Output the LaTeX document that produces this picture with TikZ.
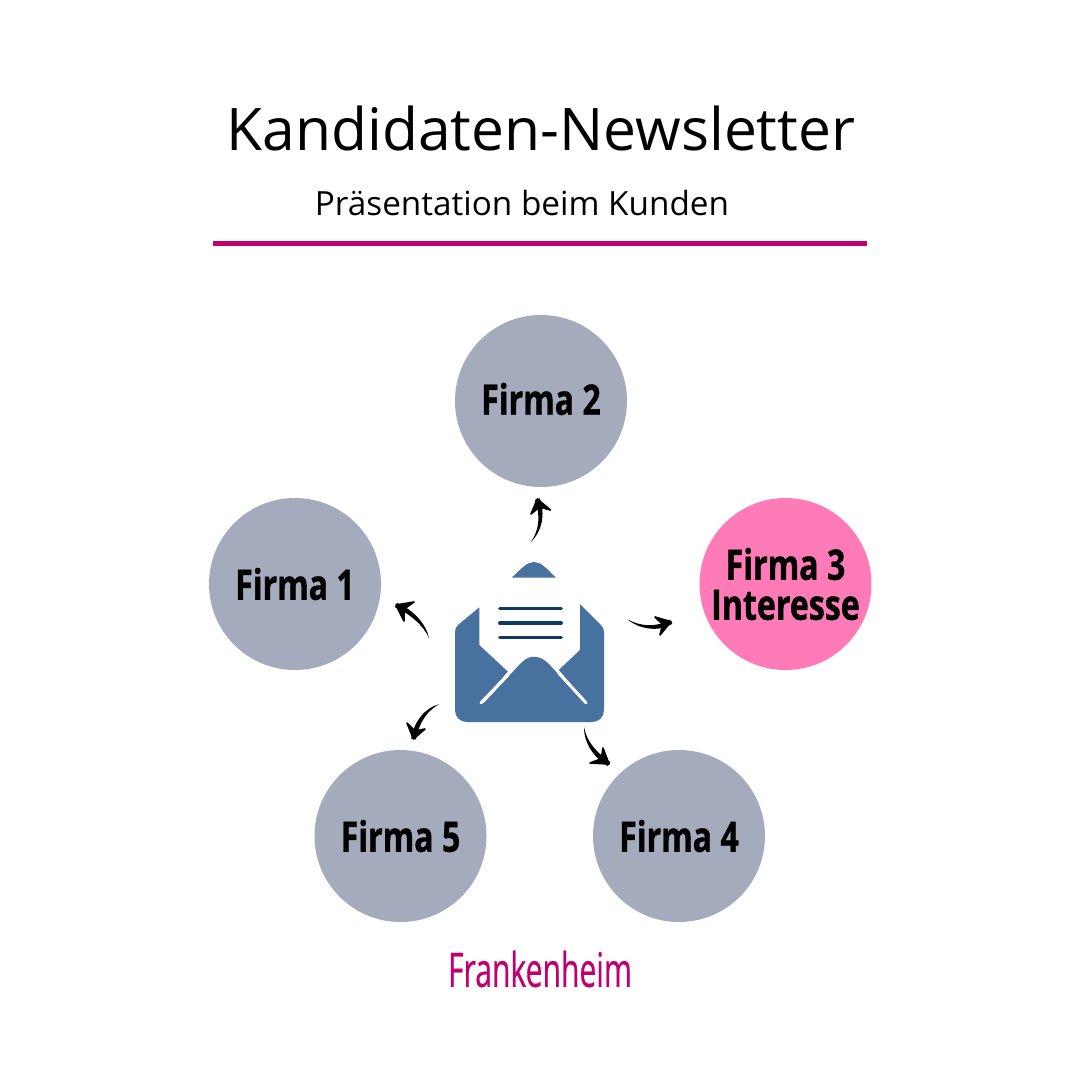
\documentclass[tikz,border=0pt]{standalone}
\usepackage{fontspec}
\usetikzlibrary{calc}
\setmainfont{Open Sans}
\newfontfamily\condbold[FakeStretch=0.765,FakeBold=0.9]{Open Sans Bold}
\newfontfamily\condreg[FakeStretch=0.632,FakeBold=0.5]{Open Sans}
\definecolor{magentaline}{HTML}{C0006F}
\definecolor{firmgrey}{HTML}{A4ABBD}
\definecolor{firmpink}{HTML}{FF7BB8}
\definecolor{envblue}{HTML}{47729F}
\definecolor{envnavy}{HTML}{0F3A60}
\tikzset{
  firm/.style={circle,fill=firmgrey,minimum size=172pt,inner sep=0pt,align=center,font=\condbold\fontsize{42}{40}\selectfont},
  firmhot/.style={firm,fill=firmpink},
  envfill/.style={fill=envblue,draw=none},
  envline/.style={envnavy,line width=3.4pt,line cap=round},
  envcrease/.style={white,line width=3pt,line cap=round},
  brushhead/.style={fill=black,draw=black,line width=1.6pt,line join=round},
}
% #1 tail, #2 and #3 two body controls, #4 tip, #5 #6 barbs
\newcommand{\brusharrow}[6]{%
  \fill[black] (#1) .. controls ($(#2)!1.6pt!90:(#3)$) and ($(#3)!2.6pt!90:(#4)$) .. ($(#4)!2.4pt!-90:(#3)$)
     -- ($(#4)!2.4pt!90:(#3)$) .. controls ($(#3)!2.6pt!-90:(#4)$) and ($(#2)!1.6pt!-90:(#3)$) .. (#1) -- cycle;
  \draw[brushhead] (#5) -- (#4) -- (#6) -- ($(#4)!0.62!($(#5)!.5!(#6)$)$) -- cycle;
}
\newcommand{\lift}[2]{\raisebox{#1}{#2}}
\begin{document}
\begin{tikzpicture}[x=1pt,y=-1pt]
\useasboundingbox (0,0) rectangle (1080,1080);
\fill[white] (0,0) rectangle (1080,1080);
\node (title) at (541,128) [font=\fontsize{58.7}{66}\selectfont] {Kandidaten-Newsletter};
\node (sub) at (522,203.5) [font=\fontsize{33.3}{36}\selectfont] {Präsentation beim Kunden};
\coordinate (ruleL) at (213,243.3);
\coordinate (ruleR) at (867,243.3);
\draw[magentaline,line width=4.6pt] (ruleL) -- (ruleR);

\node[firm] (f2) at (541,401) {\lift{4.5pt}{Firma 2}};
\node[firm] (f1) at (295,584) {\lift{-1pt}{Firma 1}};
\node[firmhot] (f3) at (785.5,584) {\lift{-1pt}{Firma 3}\\\lift{-1pt}{Interesse}};
\node[firm] (f5) at (400.5,836) {\lift{-2pt}{Firma 5}};
\node[firm] (f4) at (679,836) {\lift{-2pt}{Firma 4}};

% envelope
\fill[envfill] (511.7,577.7) .. controls (522,568) and (527,562) .. (534,562) .. controls (541,562) and (546,568) .. (556,577.7) -- cycle;
\fill[envfill] (479.3,607.3) -- (479.3,645) -- (508,671.7) -- (481,702.7) -- (534,702.7) -- (586,702.7) -- (558.7,670) -- (580,650) -- (580,604) -- (601,625) .. controls (603,627) and (604,629) .. (604,632) -- (604,710) .. controls (604,717) and (599,722) .. (592,722) -- (467,722) .. controls (460,722) and (455,717) .. (455,710) -- (455,632) .. controls (455,629) and (456,627) .. (458,625) -- cycle;
\fill[white] (508,671.7) -- (481,702.7) -- (586,702.7) -- (558.7,670) -- (547,660) -- (521,660) -- cycle;
\fill[envfill] (484,703) -- (520,664) .. controls (525,659) and (529,656.7) .. (534,656.7) .. controls (539,656.7) and (544,659) .. (549,664) -- (584,703) -- (590,712) -- (478,712) -- cycle;
\coordinate (cl0) at (508,675);
\coordinate (cl1) at (481,702.7);
\coordinate (cr0) at (558.7,673);
\coordinate (cr1) at (586,702.7);
\draw[envcrease] (cl0) -- (cl1);
\draw[envcrease] (cr0) -- (cr1);
\coordinate (l1a) at (499.8,608.7); \coordinate (l1b) at (561.2,608.7);
\coordinate (l2a) at (499.8,623);   \coordinate (l2b) at (561.2,623);
\coordinate (l3a) at (499.8,637.7); \coordinate (l3b) at (561.2,637.7);
\draw[envline] (l1a) -- (l1b);
\draw[envline] (l2a) -- (l2b);
\draw[envline] (l3a) -- (l3b);

% arrows
\coordinate (a2t) at (530.7,542.3); \coordinate (a2p) at (537.3,499);
\coordinate (a2c) at (541,530); \coordinate (a2d) at (543,515);
\coordinate (a2x) at (531,514); \coordinate (a2y) at (550.5,510);
\brusharrow{a2t}{a2c}{a2d}{a2p}{a2x}{a2y}

\coordinate (a3t) at (627.3,619.3); \coordinate (a3p) at (671,621.7);
\coordinate (a3c) at (640,628); \coordinate (a3d) at (658,630);
\coordinate (a3x) at (655,617); \coordinate (a3y) at (660,635);
\brusharrow{a3t}{a3c}{a3d}{a3p}{a3x}{a3y}

\coordinate (a4t) at (584,726.7); \coordinate (a4p) at (609,764);
\coordinate (a4c) at (585,742); \coordinate (a4d) at (595,755);
\coordinate (a4x) at (603,748); \coordinate (a4y) at (590,763);
\brusharrow{a4t}{a4c}{a4d}{a4p}{a4x}{a4y}

\coordinate (a5t) at (439.3,704.3); \coordinate (a5p) at (413.5,739);
\coordinate (a5c) at (428,708); \coordinate (a5d) at (417,720);
\coordinate (a5x) at (407,723); \coordinate (a5y) at (425,729);
\brusharrow{a5t}{a5c}{a5d}{a5p}{a5x}{a5y}

\coordinate (a1t) at (429,638); \coordinate (a1p) at (396,605);
\coordinate (a1c) at (425,625); \coordinate (a1d) at (412,612);
\coordinate (a1x) at (414,602); \coordinate (a1y) at (404,621);
\brusharrow{a1t}{a1c}{a1d}{a1p}{a1x}{a1y}

\node (brand) at (540,969) [text=magentaline,font=\condreg\fontsize{47.6}{50}\selectfont] {Frankenheim};
\end{tikzpicture}
\end{document}
